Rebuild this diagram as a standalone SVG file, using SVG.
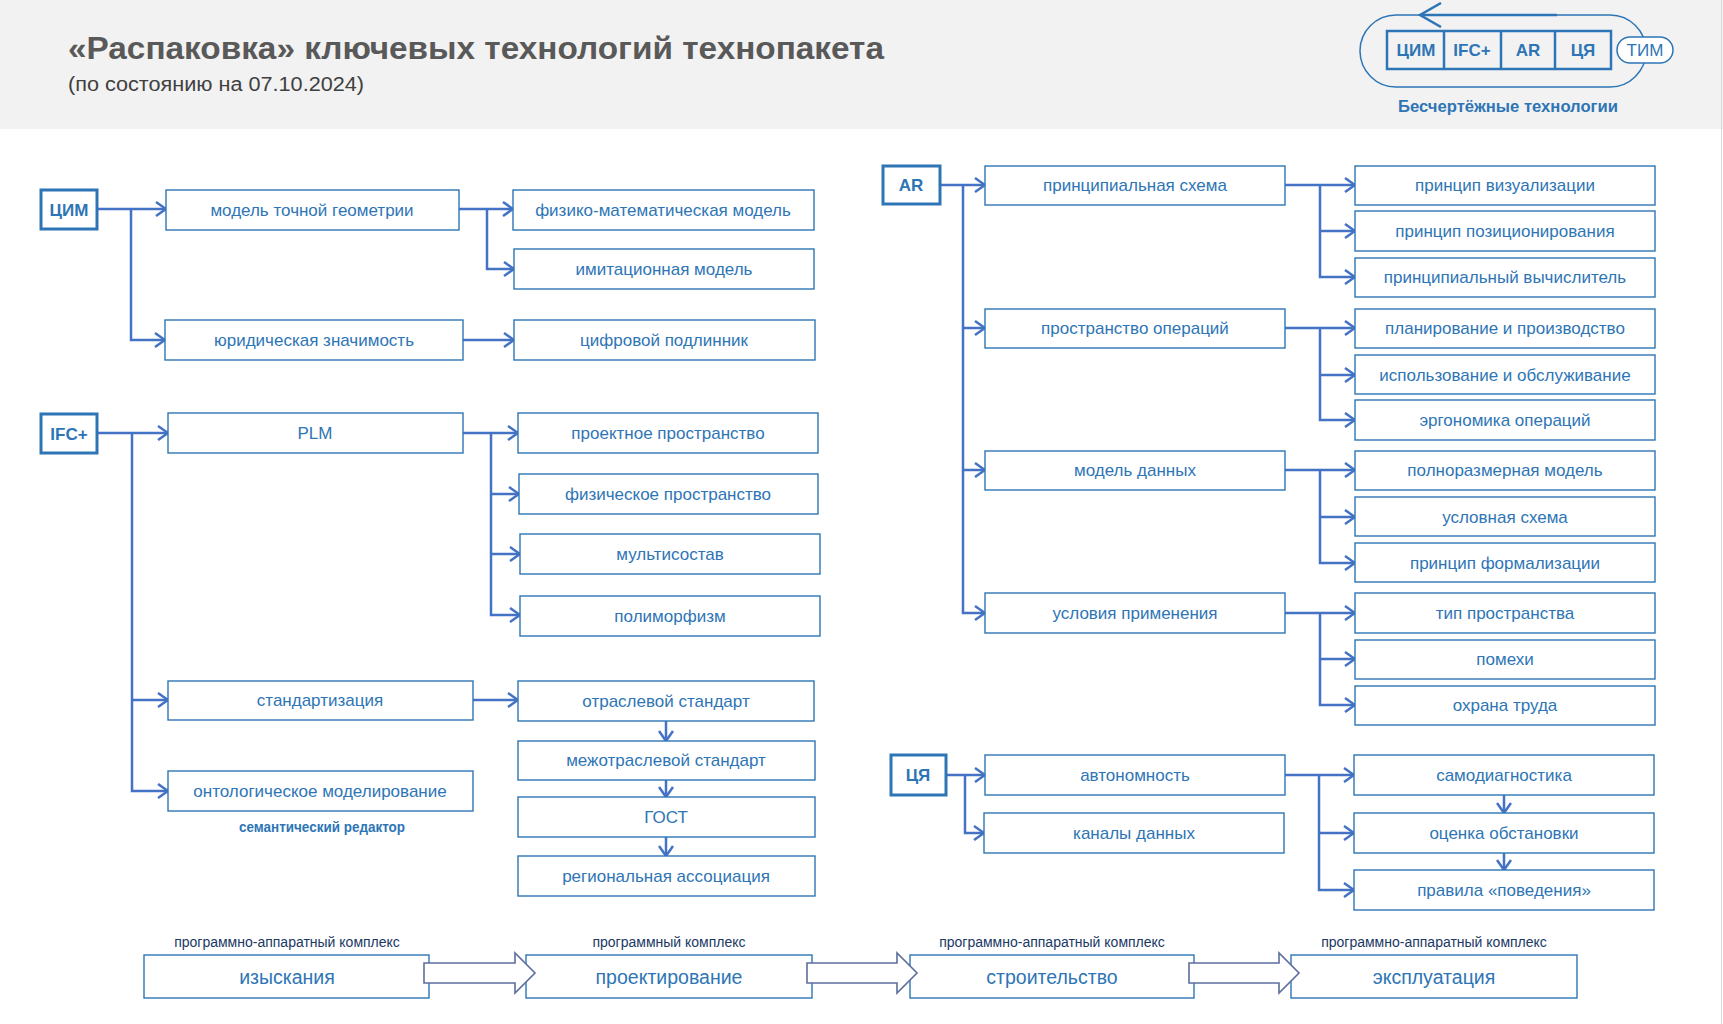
<svg xmlns="http://www.w3.org/2000/svg" width="1723" height="1024" viewBox="0 0 1723 1024">
<defs>
<style>
.bg{fill:#ffffff}
.hdr{fill:#f2f2f2}
.box{fill:#ffffff;stroke:#2e75b6;stroke-width:1.4}
.root{fill:#ffffff;stroke:#2e75b6;stroke-width:3}
.t{font-family:"Liberation Sans",Arial,sans-serif;font-size:17px;fill:#2e75b6;text-anchor:middle;dominant-baseline:central}
.tb{font-family:"Liberation Sans",Arial,sans-serif;font-size:17px;font-weight:bold;fill:#2e75b6;text-anchor:middle;dominant-baseline:central}
.tl{font-family:"Liberation Sans",Arial,sans-serif;font-size:19.5px;fill:#2e75b6;text-anchor:middle;dominant-baseline:central}
.lab{font-family:"Liberation Sans",Arial,sans-serif;font-size:14px;fill:#203864;text-anchor:middle}
.con{fill:none;stroke:#4472c4;stroke-width:2.5;marker-end:url(#ah)}
.blk{fill:#ffffff;stroke:#5d6e9e;stroke-width:1.6}
</style>
<marker id="ah" viewBox="0 0 12 16" refX="11" refY="8" markerWidth="12" markerHeight="16" markerUnits="userSpaceOnUse" orient="auto">
<path d="M1,1 L11,8 L1,15" fill="none" stroke="#4472c4" stroke-width="2.5"/>
</marker>
<marker id="ah2" viewBox="0 0 24 26" refX="22" refY="13" markerWidth="24" markerHeight="26" markerUnits="userSpaceOnUse" orient="auto">
<path d="M1,1 L22,13 L1,25" fill="none" stroke="#2e75b6" stroke-width="2.5"/>
</marker>
</defs>
<rect class="bg" x="0" y="0" width="1723" height="1024"/>
<rect class="hdr" x="0" y="0" width="1723" height="129"/>
<line x1="1721.5" y1="0" x2="1721.5" y2="1024" stroke="#d9d9d9" stroke-width="1"/>

<g id="title">
<text x="68" y="59" font-family="'Liberation Sans',Arial,sans-serif" font-size="31" font-weight="bold" fill="#595959" textLength="816" lengthAdjust="spacingAndGlyphs">«Распаковка» ключевых технологий технопакета</text>
<text x="68" y="91" font-family="'Liberation Sans',Arial,sans-serif" font-size="20" fill="#404040" textLength="296" lengthAdjust="spacingAndGlyphs">(по состоянию на 07.10.2024)</text>
</g>

<g id="legend">
<path d="M1557,15 H1396 A36,36 0 0 0 1396,87 H1610 A36,36 0 0 0 1610,15 H1557" fill="none" stroke="#2e75b6" stroke-width="1.5"/>
<path d="M1557,15 H1420" fill="none" stroke="#2e75b6" stroke-width="2.5" marker-end="url(#ah2)"/>
<rect x="1387" y="31" width="224" height="38" fill="none" stroke="#2e75b6" stroke-width="2.5"/>
<line x1="1444" y1="31" x2="1444" y2="69" stroke="#2e75b6" stroke-width="2.5"/>
<line x1="1501" y1="31" x2="1501" y2="69" stroke="#2e75b6" stroke-width="2.5"/>
<line x1="1555" y1="31" x2="1555" y2="69" stroke="#2e75b6" stroke-width="2.5"/>
<text class="tb" x="1416" y="50">ЦИМ</text>
<text class="tb" x="1472" y="50">IFC+</text>
<text class="tb" x="1528" y="50">AR</text>
<text class="tb" x="1583" y="50">ЦЯ</text>
<rect x="1617" y="37" width="56" height="26" rx="13" fill="#ffffff" stroke="#2e75b6" stroke-width="1.5"/>
<text class="t" x="1645" y="50" font-size="18">ТИМ</text>
<text x="1508" y="112" font-family="'Liberation Sans',Arial,sans-serif" font-size="16" font-weight="bold" fill="#2e75b6" text-anchor="middle" textLength="220" lengthAdjust="spacingAndGlyphs">Бесчертёжные технологии</text>
</g>

<g id="connectors">
<path class="con" d="M97,209 H166"/>
<path class="con" d="M131,209 V340 H165"/>
<path class="con" d="M459,209 H513"/>
<path class="con" d="M487,209 V269 H514"/>
<path class="con" d="M463,340 H514"/>

<path class="con" d="M97,433 H168"/>
<path class="con" d="M132,433 V791 H168"/>
<path class="con" d="M132,700 H168"/>
<path class="con" d="M463,433 H518"/>
<path class="con" d="M491,433 V615 H520"/>
<path class="con" d="M491,494 H519"/>
<path class="con" d="M491,554 H520"/>
<path class="con" d="M473,700 H518"/>
<path class="con" d="M666,721 V741"/>
<path class="con" d="M666,780 V797"/>
<path class="con" d="M666,837 V856"/>

<path class="con" d="M940,185 H985"/>
<path class="con" d="M963,185 V613 H985"/>
<path class="con" d="M963,328 H985"/>
<path class="con" d="M963,470 H985"/>
<path class="con" d="M1285,185 H1355"/>
<path class="con" d="M1320,185 V277 H1355"/>
<path class="con" d="M1320,231 H1355"/>
<path class="con" d="M1285,328 H1355"/>
<path class="con" d="M1320,328 V420 H1355"/>
<path class="con" d="M1320,375 H1355"/>
<path class="con" d="M1285,470 H1355"/>
<path class="con" d="M1320,470 V563 H1355"/>
<path class="con" d="M1320,517 H1355"/>
<path class="con" d="M1285,613 H1355"/>
<path class="con" d="M1320,613 V705 H1355"/>
<path class="con" d="M1320,659 H1355"/>

<path class="con" d="M946,775 H985"/>
<path class="con" d="M965,775 V833 H984"/>
<path class="con" d="M1285,775 H1354"/>
<path class="con" d="M1319,775 V890 H1354"/>
<path class="con" d="M1319,833 H1354"/>
<path class="con" d="M1504,795 V813"/>
<path class="con" d="M1504,853 V870"/>
</g>

<g id="n-cim"><rect class="root" x="41" y="190" width="56" height="39"/><text class="tb" x="69" y="210">ЦИМ</text></g>
<g id="n-mtg"><rect class="box" x="166" y="190" width="293" height="40"/><text class="t" x="312" y="210">модель точной геометрии</text></g>
<g id="n-fmm"><rect class="box" x="513" y="190" width="301" height="40"/><text class="t" x="663" y="210">физико-математическая модель</text></g>
<g id="n-im"><rect class="box" x="514" y="249" width="300" height="40"/><text class="t" x="664" y="269">имитационная модель</text></g>
<g id="n-yz"><rect class="box" x="165" y="320" width="298" height="40"/><text class="t" x="314" y="340">юридическая значимость</text></g>
<g id="n-cp"><rect class="box" x="514" y="320" width="301" height="40"/><text class="t" x="664" y="340">цифровой подлинник</text></g>

<g id="n-ifc"><rect class="root" x="41" y="414" width="56" height="39"/><text class="tb" x="69" y="434">IFC+</text></g>
<g id="n-plm"><rect class="box" x="168" y="413" width="295" height="40"/><text class="t" x="315" y="433">PLM</text></g>
<g id="n-pp"><rect class="box" x="518" y="413" width="300" height="40"/><text class="t" x="668" y="433">проектное пространство</text></g>
<g id="n-fp"><rect class="box" x="519" y="474" width="299" height="40"/><text class="t" x="668" y="494">физическое пространство</text></g>
<g id="n-ms"><rect class="box" x="520" y="534" width="300" height="40"/><text class="t" x="670" y="554">мультисостав</text></g>
<g id="n-pm"><rect class="box" x="520" y="596" width="300" height="40"/><text class="t" x="670" y="616">полиморфизм</text></g>
<g id="n-st"><rect class="box" x="168" y="681" width="305" height="39"/><text class="t" x="320" y="700">стандартизация</text></g>
<g id="n-os"><rect class="box" x="518" y="681" width="296" height="40"/><text class="t" x="666" y="701">отраслевой стандарт</text></g>
<g id="n-mos"><rect class="box" x="518" y="741" width="297" height="39"/><text class="t" x="666" y="760">межотраслевой стандарт</text></g>
<g id="n-gost"><rect class="box" x="518" y="797" width="297" height="40"/><text class="t" x="666" y="817">ГОСТ</text></g>
<g id="n-ra"><rect class="box" x="518" y="856" width="297" height="40"/><text class="t" x="666" y="876">региональная ассоциация</text></g>
<g id="n-om"><rect class="box" x="168" y="771" width="305" height="40"/><text class="t" x="320" y="791">онтологическое  моделирование</text>
<text x="322" y="832" font-family="'Liberation Sans',Arial,sans-serif" font-size="14" font-weight="bold" fill="#2e75b6" text-anchor="middle" textLength="166" lengthAdjust="spacingAndGlyphs">семантический редактор</text></g>

<g id="n-ar"><rect class="root" x="883" y="166" width="57" height="38"/><text class="tb" x="911" y="185">AR</text></g>
<g id="n-ps"><rect class="box" x="985" y="166" width="300" height="39"/><text class="t" x="1135" y="185">принципиальная схема</text></g>
<g id="n-pv"><rect class="box" x="1355" y="166" width="300" height="39"/><text class="t" x="1505" y="185">принцип визуализации</text></g>
<g id="n-ppz"><rect class="box" x="1355" y="211" width="300" height="40"/><text class="t" x="1505" y="231">принцип позиционирования</text></g>
<g id="n-pvy"><rect class="box" x="1355" y="258" width="300" height="39"/><text class="t" x="1505" y="277">принципиальный  вычислитель</text></g>
<g id="n-po"><rect class="box" x="985" y="309" width="300" height="39"/><text class="t" x="1135" y="328">пространство операций</text></g>
<g id="n-plan"><rect class="box" x="1355" y="309" width="300" height="39"/><text class="t" x="1505" y="328">планирование и производство</text></g>
<g id="n-isp"><rect class="box" x="1355" y="355" width="300" height="39"/><text class="t" x="1505" y="375">использование и обслуживание</text></g>
<g id="n-erg"><rect class="box" x="1355" y="400" width="300" height="40"/><text class="t" x="1505" y="420">эргономика операций</text></g>
<g id="n-md"><rect class="box" x="985" y="451" width="300" height="39"/><text class="t" x="1135" y="470">модель данных</text></g>
<g id="n-pol"><rect class="box" x="1355" y="451" width="300" height="39"/><text class="t" x="1505" y="470">полноразмерная модель</text></g>
<g id="n-usl"><rect class="box" x="1355" y="497" width="300" height="39"/><text class="t" x="1505" y="517">условная схема</text></g>
<g id="n-pf"><rect class="box" x="1355" y="543" width="300" height="39"/><text class="t" x="1505" y="563">принцип формализации</text></g>
<g id="n-up"><rect class="box" x="985" y="593" width="300" height="40"/><text class="t" x="1135" y="613">условия применения</text></g>
<g id="n-tp"><rect class="box" x="1355" y="593" width="300" height="40"/><text class="t" x="1505" y="613">тип пространства</text></g>
<g id="n-pom"><rect class="box" x="1355" y="640" width="300" height="39"/><text class="t" x="1505" y="659">помехи</text></g>
<g id="n-oh"><rect class="box" x="1355" y="686" width="300" height="39"/><text class="t" x="1505" y="705">охрана труда</text></g>

<g id="n-cya"><rect class="root" x="891" y="755" width="55" height="40"/><text class="tb" x="918" y="775">ЦЯ</text></g>
<g id="n-avt"><rect class="box" x="985" y="755" width="300" height="40"/><text class="t" x="1135" y="775">автономность</text></g>
<g id="n-kd"><rect class="box" x="984" y="813" width="300" height="40"/><text class="t" x="1134" y="833">каналы данных</text></g>
<g id="n-sd"><rect class="box" x="1354" y="755" width="300" height="40"/><text class="t" x="1504" y="775">самодиагностика</text></g>
<g id="n-oo"><rect class="box" x="1354" y="813" width="300" height="40"/><text class="t" x="1504" y="833">оценка обстановки</text></g>
<g id="n-pr"><rect class="box" x="1354" y="870" width="300" height="40"/><text class="t" x="1504" y="890">правила «поведения»</text></g>

<g id="n-izy"><text class="lab" x="287" y="947">программно-аппаратный комплекс</text><rect class="box" x="144" y="955" width="285" height="43"/><text class="tl" x="287" y="977">изыскания</text></g>
<g id="n-proj"><text class="lab" x="669" y="947">программный комплекс</text><rect class="box" x="526" y="955" width="286" height="43"/><text class="tl" x="669" y="977">проектирование</text></g>
<g id="n-str"><text class="lab" x="1052" y="947">программно-аппаратный комплекс</text><rect class="box" x="910" y="955" width="284" height="43"/><text class="tl" x="1052" y="977">строительство</text></g>
<g id="n-exp"><text class="lab" x="1434" y="947">программно-аппаратный комплекс</text><rect class="box" x="1291" y="955" width="286" height="43"/><text class="tl" x="1434" y="977">эксплуатация</text></g>

<g id="flow-arrows">
<polygon class="blk" points="424,963 515,963 515,953 535,973 515,993 515,983 424,983"/>
<polygon class="blk" points="807,963 897,963 897,953 917,973 897,993 897,983 807,983"/>
<polygon class="blk" points="1189,963 1279,963 1279,953 1299,973 1279,993 1279,983 1189,983"/>
</g>
</svg>
